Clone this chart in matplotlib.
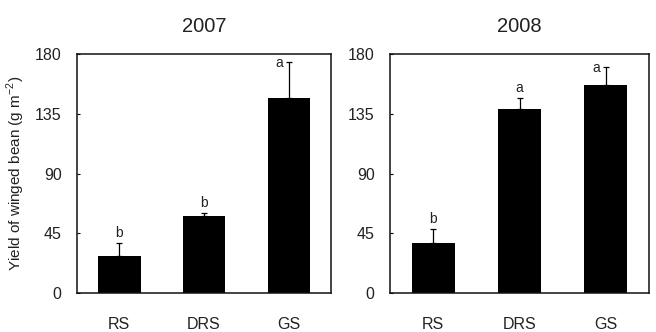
import matplotlib
matplotlib.use("Agg")
import matplotlib.pyplot as plt
import numpy as np

plt.rcParams["font.family"] = ["Liberation Sans", "DejaVu Sans"]
plt.rcParams["mathtext.fontset"] = "custom"
plt.rcParams["mathtext.rm"] = "Liberation Sans"

treatments = ["RS", "DRS", "GS"]
years = ["2007", "2008"]
yield_2007 = [28, 58, 147]
se_2007 = [10, 2.5, 27]
letters_2007 = ["b", "b", "a"]
yield_2008 = [37.5, 138.5, 157]
se_2008 = [11, 8.5, 13.5]
letters_2008 = ["b", "a", "a"]
yticks = [0, 45, 90, 135, 180]

fig = plt.figure(figsize=(6.56, 3.32), dpi=100)
ax1 = fig.add_axes([77 / 656, 39 / 332, 254 / 656, 239 / 332])
ax2 = fig.add_axes([390 / 656, 39 / 332, 259 / 656, 239 / 332])

text_color = "#222222"
data = [(ax1, yield_2007, se_2007, letters_2007, years[0]),
        (ax2, yield_2008, se_2008, letters_2008, years[1])]

for ax, vals, errs, letters, year in data:
    x = np.arange(len(treatments))
    ax.bar(x, vals, width=0.5, color="black", zorder=2)
    ax.errorbar(x, vals, yerr=[np.zeros(len(errs)), errs], fmt="none",
                ecolor="black", elinewidth=0.9, capsize=2.2, capthick=0.9,
                zorder=3)
    for i, (v, e, lab) in enumerate(zip(vals, errs, letters)):
        top = v + e
        if i == len(vals) - 1:
            ax.annotate(lab, xy=(i, top), xytext=(-7, -1),
                        textcoords="offset points", ha="center", va="center",
                        fontsize=10, color=text_color)
        else:
            ax.annotate(lab, xy=(i, top), xytext=(0, 2),
                        textcoords="offset points", ha="center", va="bottom",
                        fontsize=10, color=text_color)
    ax.set_xlim(-0.5, 2.5)
    ax.set_ylim(0, 180)
    ax.set_yticks(yticks)
    ax.set_xticks(x)
    ax.set_xticklabels(treatments)
    ax.tick_params(axis="x", length=0, pad=17, labelsize=11.5,
                   labelcolor=text_color)
    ax.tick_params(axis="y", direction="in", length=2.5, width=0.8,
                   pad=11, labelsize=11.5, labelcolor=text_color)
    for sp in ax.spines.values():
        sp.set_linewidth(1.1)
        sp.set_color("#111111")
    ax.set_title(year, fontsize=14.5, color=text_color, pad=16)

ax1.set_ylabel(r"Yield of winged bean (g m$^{\mathrm{-2}}$)", fontsize=11,
               color=text_color)
ax1.yaxis.set_label_coords(-0.195, 0.5)

fig.savefig("out.png", dpi=100, facecolor="white")
